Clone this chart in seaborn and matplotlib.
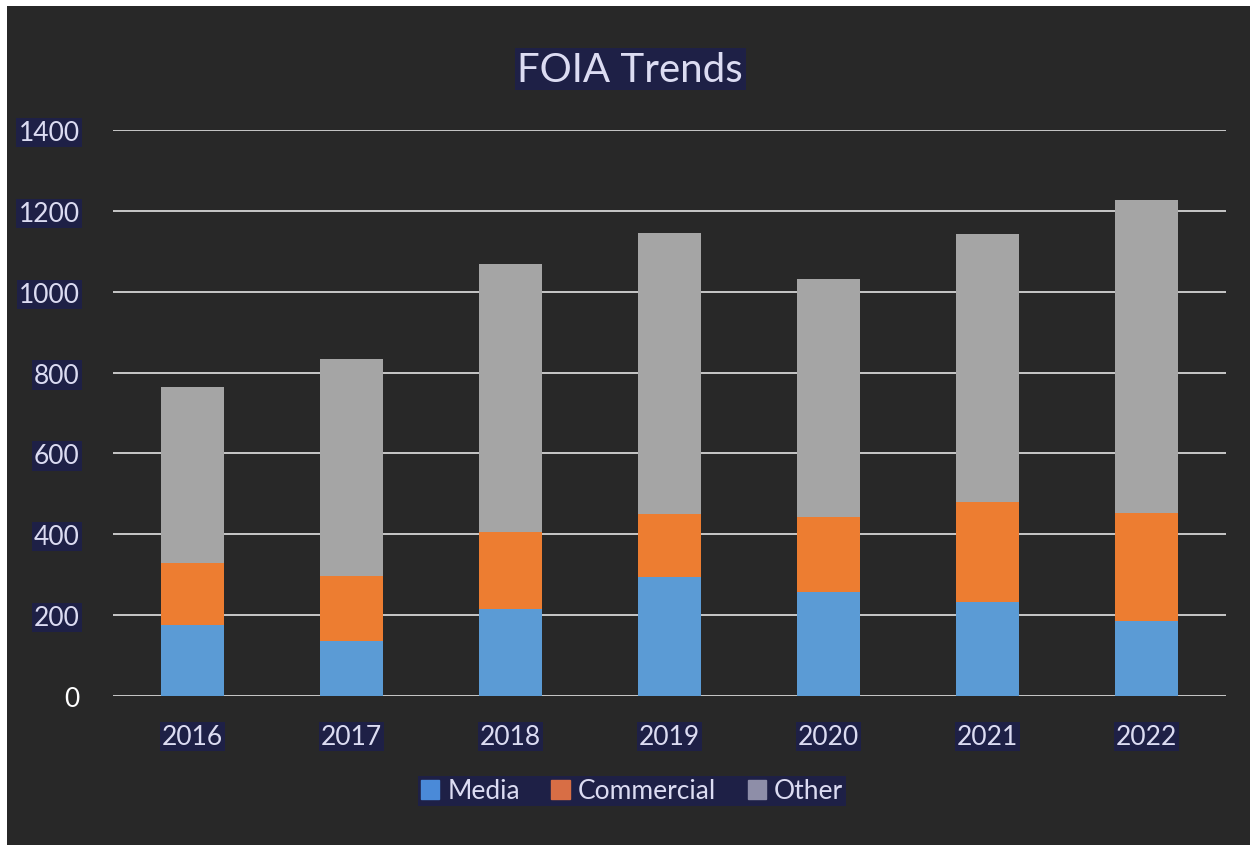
import numpy as np
import pandas as pd
import seaborn as sns
import matplotlib.pyplot as plt
from matplotlib.patches import Patch, Rectangle

# data
years = ['2016', '2017', '2018', '2019', '2020', '2021', '2022']
media = [175, 136, 215, 294, 257, 232, 185]
commercial = [153, 160, 190, 156, 186, 248, 268]
other = [436, 537, 663, 695, 588, 663, 774]
yticks = [0, 200, 400, 600, 800, 1000, 1200, 1400]

bg = '#282828'
navy = '#1e2046'
txt = '#dcdcf2'
c_media, c_comm, c_other = '#5b9bd5', '#ed7d31', '#a5a5a5'

sns.set_theme(style='dark')
plt.rcParams['font.family'] = ['Lato', 'DejaVu Sans']

df = pd.DataFrame({'year': years, 'media': media,
                   'commercial': commercial, 'other': other})
df['c1'] = df['media'] + df['commercial']
df['c2'] = df['c1'] + df['other']

fig = plt.figure(figsize=(12.53, 8.53), dpi=100, facecolor='white')
fig.patches.append(Rectangle((7 / 1253, 7 / 853), 1243 / 1253, 839 / 853,
                             transform=fig.transFigure, facecolor=bg,
                             edgecolor='none', zorder=-10))
ax = fig.add_axes([113 / 1253, 1 - 697 / 853, 1113 / 1253, 566 / 853])
ax.set_facecolor(bg)

# stacked bars drawn as overlapping cumulative totals
for col, c in [('c2', c_other), ('c1', c_comm), ('media', c_media)]:
    sns.barplot(data=df, x='year', y=col, color=c, width=0.4,
                saturation=1, linewidth=0, edgecolor='none', ax=ax, zorder=3)

ax.set_ylim(0, 1400)
ax.set_xlim(-0.5, 6.5)
ax.set_yticks(yticks)
ax.set_xlabel('')
ax.set_ylabel('')
for s in ax.spines.values():
    s.set_visible(False)
for y in yticks:
    ax.axhline(y, color='#d4d4d4', lw=1.3, zorder=2)
ax.tick_params(axis='both', length=0, labelsize=19, colors=txt)
ax.tick_params(axis='y', pad=24)
ax.tick_params(axis='x', pad=20)

for i, lab in enumerate(ax.get_yticklabels()):
    if i == 0:
        lab.set_color('white')
    else:
        lab.set_bbox(dict(facecolor=navy, edgecolor='none', pad=1.5))
for lab in ax.get_xticklabels():
    lab.set_bbox(dict(facecolor=navy, edgecolor='none', pad=1.5))

fig.text(0.503, 1 - 70 / 853, 'FOIA Trends', ha='center', va='center',
         fontsize=29, color=txt,
         bbox=dict(facecolor=navy, edgecolor='none', pad=2))

handles = [Patch(color='#4a8ad8', label='Media'),
           Patch(color='#d86e45', label='Commercial'),
           Patch(color='#8e8ea8', label='Other')]
leg = fig.legend(handles=handles, loc='center',
                 bbox_to_anchor=(632 / 1253, 1 - 792 / 853), ncol=3,
                 frameon=True, fontsize=19, handlelength=0.7,
                 handleheight=0.7, handletextpad=0.3, columnspacing=1.2,
                 borderpad=0.1, fancybox=False)
leg.get_frame().set_facecolor(navy)
leg.get_frame().set_edgecolor('none')
leg.get_frame().set_alpha(1)
for t in leg.get_texts():
    t.set_color(txt)

plt.savefig('out.png', dpi=100, facecolor='white')
